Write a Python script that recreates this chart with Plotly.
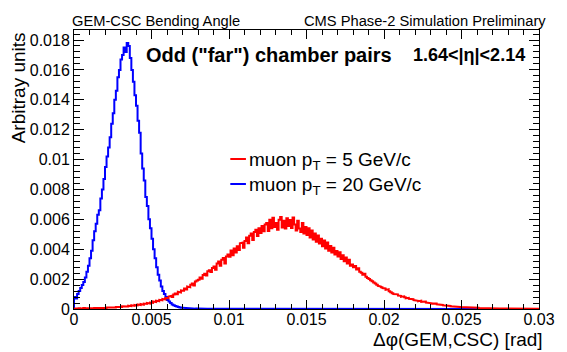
import numpy as np
import plotly.graph_objects as go

# ---- data (histograms, 300 bins of width 0.0001 from 0 to 0.03) ----
bin_low = 0.0
bin_width = 0.0001
n_bins = 300

blue_pt20 = [
    0.00080, 0.00070, 0.00100, 0.00120, 0.00140, 0.00160, 0.00180, 0.00210, 0.00250, 0.00290,
    0.00340, 0.00390, 0.00460, 0.00520, 0.00570, 0.00630, 0.00660, 0.00740, 0.00800, 0.00870,
    0.00950, 0.01020, 0.01080, 0.01150, 0.01240, 0.01310, 0.01400, 0.01460, 0.01550, 0.01600,
    0.01670, 0.01700, 0.01750, 0.01720, 0.01780, 0.01760, 0.01680, 0.01600, 0.01520, 0.01430,
    0.01360, 0.01260, 0.01180, 0.01040, 0.00940, 0.00860, 0.00750, 0.00690, 0.00600, 0.00540,
    0.00470, 0.00400, 0.00340, 0.00280, 0.00230, 0.00190, 0.00150, 0.00120, 0.00100, 0.00080,
    0.00060, 0.00050, 0.00040, 0.00030, 0.00025, 0.00020, 0.00016, 0.00013, 0.00010, 0.00008,
    0.00007, 0.00006, 0.00005, 0.00005, 0.00004, 0.00003, 0.00004, 0.00003, 0.00002, 0.00003,
    0.00002, 0.00002, 0.00001, 0.00002, 0.00001, 0.00001, 0.00002, 0.00001, 0.00001, 0.00001,
    0.00001, 0.00001, 0.0, 0.00001, 0.0, 0.0, 0.00001, 0.0, 0.0, 0.0,
] + [0.0] * 200

red_pt5 = [
    0.00002, 0.00004, 0.00003, 0.00005, 0.00002, 0.00004, 0.00006, 0.00003, 0.00005, 0.00004,
    0.00005, 0.00003, 0.00006, 0.00007, 0.00004, 0.00006, 0.00008, 0.00005, 0.00007, 0.00009,
    0.00006, 0.00010, 0.00008, 0.00011, 0.00009, 0.00013, 0.00010, 0.00014, 0.00012, 0.00015,
    0.00013, 0.00018, 0.00016, 0.00020, 0.00017, 0.00022, 0.00019, 0.00025, 0.00021, 0.00027,
    0.00024, 0.00030, 0.00027, 0.00033, 0.00029, 0.00036, 0.00034, 0.00040, 0.00037, 0.00043,
    0.00041, 0.00050, 0.00047, 0.00056, 0.00052, 0.00061, 0.00058, 0.00068, 0.00064, 0.00075,
    0.00072, 0.00083, 0.00088, 0.00080, 0.00097, 0.00104, 0.00098, 0.00115, 0.00110, 0.00124,
    0.00122, 0.00138, 0.00130, 0.00151, 0.00146, 0.00162, 0.00170, 0.00158, 0.00184, 0.00190,
    0.00196, 0.00210, 0.00202, 0.00228, 0.00236, 0.00224, 0.00252, 0.00260, 0.00248, 0.00275,
    0.00285, 0.00262, 0.00305, 0.00318, 0.00290, 0.00330, 0.00342, 0.00305, 0.00352, 0.00365,
    0.00350, 0.00392, 0.00360, 0.00405, 0.00378, 0.00420, 0.00395, 0.00440, 0.00445, 0.00410,
    0.00455, 0.00478, 0.00440, 0.00490, 0.00505, 0.00462, 0.00515, 0.00530, 0.00488, 0.00540,
    0.00508, 0.00555, 0.00520, 0.00565, 0.00575, 0.00522, 0.00598, 0.00540, 0.00610, 0.00548,
    0.00575, 0.00530, 0.00598, 0.00615, 0.00545, 0.00590, 0.00538, 0.00608, 0.00555, 0.00595,
    0.00542, 0.00612, 0.00565, 0.00525, 0.00590, 0.00538, 0.00515, 0.00575, 0.00505, 0.00548,
    0.00495, 0.00540, 0.00478, 0.00525, 0.00465, 0.00505, 0.00450, 0.00492, 0.00438, 0.00470,
    0.00420, 0.00458, 0.00405, 0.00445, 0.00390, 0.00422, 0.00378, 0.00410, 0.00365, 0.00388,
    0.00352, 0.00380, 0.00335, 0.00360, 0.00320, 0.00345, 0.00305, 0.00330, 0.00290, 0.00298,
    0.00280, 0.00288, 0.00265, 0.00272, 0.00250, 0.00242, 0.00230, 0.00236, 0.00215, 0.00208,
    0.00200, 0.00192, 0.00185, 0.00178, 0.00170, 0.00162, 0.00155, 0.00150, 0.00146, 0.00140,
    0.00138, 0.00128, 0.00132, 0.00118, 0.00112, 0.00106, 0.00100, 0.00095, 0.00098, 0.00090,
    0.00088, 0.00082, 0.00085, 0.00078, 0.00072, 0.00075, 0.00068, 0.00064, 0.00066, 0.00060,
    0.00058, 0.00055, 0.00052, 0.00056, 0.00048, 0.00046, 0.00050, 0.00043, 0.00040, 0.00042,
    0.00038, 0.00036, 0.00034, 0.00037, 0.00031, 0.00029, 0.00032, 0.00027, 0.00025, 0.00023,
    0.00022, 0.00024, 0.00020, 0.00018, 0.00019, 0.00016, 0.00015, 0.00017, 0.00014, 0.00013,
    0.00013, 0.00011, 0.00012, 0.00010, 0.00011, 0.00009, 0.00010, 0.00008, 0.00009, 0.00008,
    0.00008, 0.00006, 0.00007, 0.00009, 0.00006, 0.00005, 0.00007, 0.00006, 0.00005, 0.00004,
    0.00005, 0.00004, 0.00006, 0.00004, 0.00003, 0.00005, 0.00004, 0.00003, 0.00005, 0.00004,
    0.00003, 0.00004, 0.00003, 0.00005, 0.00003, 0.00002, 0.00004, 0.00003, 0.00002, 0.00003,
    0.00003, 0.00002, 0.00004, 0.00002, 0.00003, 0.00002, 0.00003, 0.00002, 0.00001, 0.00002,
]

series_names = ["muon p<sub>T</sub> = 5 GeV/c", "muon p<sub>T</sub> = 20 GeV/c"]
series_colors = ["#ff0000", "#0000ff"]

x_tickvals = [0, 0.005, 0.01, 0.015, 0.02, 0.025, 0.03]
x_ticktext = ["0", "0.005", "0.01", "0.015", "0.02", "0.025", "0.03"]
y_tickvals = [0, 0.002, 0.004, 0.006, 0.008, 0.01, 0.012, 0.014, 0.016, 0.018]
y_ticktext = ["0", "0.002", "0.004", "0.006", "0.008", "0.01", "0.012", "0.014", "0.016", "0.018"]

# ---- geometry ----
W, H = 567, 352
L, R, T, B = 74, 17, 30, 43
pw, ph = W - L - R, H - T - B

def px(xp):
    return (xp - L) / pw

def py(yp):
    return (H - B - yp) / ph

FONT = "Liberation Sans, Arial, Helvetica, sans-serif"

# bin edges -> step outline (ROOT-style histogram)
edges = bin_low + bin_width * np.arange(n_bins + 1)

def step_xy(vals):
    xs, ys = [edges[0]], [0.0]
    for i, v in enumerate(vals):
        xs += [edges[i], edges[i + 1]]
        ys += [v, v]
    xs.append(edges[-1]); ys.append(0.0)
    return xs, ys

fig = go.Figure()
bx, by = step_xy(blue_pt20)
rx, ry = step_xy(red_pt5)
fig.add_trace(go.Scatter(x=bx, y=by, mode="lines", line=dict(color=series_colors[1], width=2),
                         name=series_names[1], showlegend=False, hoverinfo="skip"))
fig.add_trace(go.Scatter(x=rx, y=ry, mode="lines", line=dict(color=series_colors[0], width=2),
                         name=series_names[0], showlegend=False, hoverinfo="skip"))

axis_common = dict(showgrid=False, zeroline=False, showline=True, linecolor="black", linewidth=1,
                   mirror="ticks", ticks="inside", tickcolor="black", tickwidth=1,
                   tickfont=dict(family=FONT, size=16, color="black"))

fig.update_xaxes(range=[0, 0.03], tickvals=x_tickvals, ticktext=x_ticktext, ticklen=9,
                 ticklabelstandoff=-4,
                 minor=dict(dtick=0.001, ticks="inside", ticklen=5, tickcolor="black", tickwidth=1, showgrid=False),
                 **axis_common)
fig.update_yaxes(range=[0, 0.01867], tickvals=y_tickvals, ticktext=y_ticktext, ticklen=10,
                 minor=dict(dtick=0.0004, ticks="inside", ticklen=6, tickcolor="black", tickwidth=1, showgrid=False),
                 **axis_common)

ann = []
ann.append(dict(text="Arbitray units", textangle=-90, x=px(17.5), y=1.0, xref="paper", yref="paper",
                xanchor="center", yanchor="top", showarrow=False,
                font=dict(family=FONT, size=19, color="black")))
ann.append(dict(text="Δφ(GEM,CSC) [rad]", x=px(556), y=py(339), xref="paper", yref="paper",
                xanchor="right", yanchor="middle", showarrow=False,
                font=dict(family=FONT, size=19, color="black")))
ann.append(dict(text="GEM-CSC Bending Angle", x=px(70), y=py(21), xref="paper", yref="paper",
                xanchor="left", yanchor="middle", showarrow=False,
                font=dict(family=FONT, size=14.7, color="black")))
ann.append(dict(text="CMS Phase-2 Simulation Preliminary", x=px(559), y=py(21), xref="paper", yref="paper",
                xanchor="right", yanchor="middle", showarrow=False,
                font=dict(family=FONT, size=14.7, color="black")))
ann.append(dict(text="<b>Odd (\"far\") chamber pairs</b>", x=px(146), y=py(55), xref="paper", yref="paper",
                xanchor="left", yanchor="middle", showarrow=False,
                font=dict(family=FONT, size=20, color="black")))
ann.append(dict(text="<b>1.64<|η|<2.14</b>", x=px(538), y=py(55), xref="paper", yref="paper",
                xanchor="right", yanchor="middle", showarrow=False,
                font=dict(family=FONT, size=18, color="black")))

shapes = []
leg_y = [159, 184]
for i in range(2):
    shapes.append(dict(type="line", xref="paper", yref="paper", x0=px(234), x1=px(250),
                       y0=py(leg_y[i]), y1=py(leg_y[i]), line=dict(color=series_colors[i], width=2)))
    ann.append(dict(text=series_names[i], x=px(251), y=py(leg_y[i] + 2), xref="paper", yref="paper",
                    xanchor="left", yanchor="middle", showarrow=False,
                    font=dict(family=FONT, size=19, color="black")))

fig.update_layout(width=W, height=H, margin=dict(l=L, r=R, t=T, b=B, pad=0),
                  paper_bgcolor="white", plot_bgcolor="white",
                  annotations=ann, shapes=shapes, showlegend=False)

fig.write_html("out.html", config={"displayModeBar": False, "staticPlot": True},
               post_script="document.body.style.margin='0';document.body.style.overflow='hidden';")
